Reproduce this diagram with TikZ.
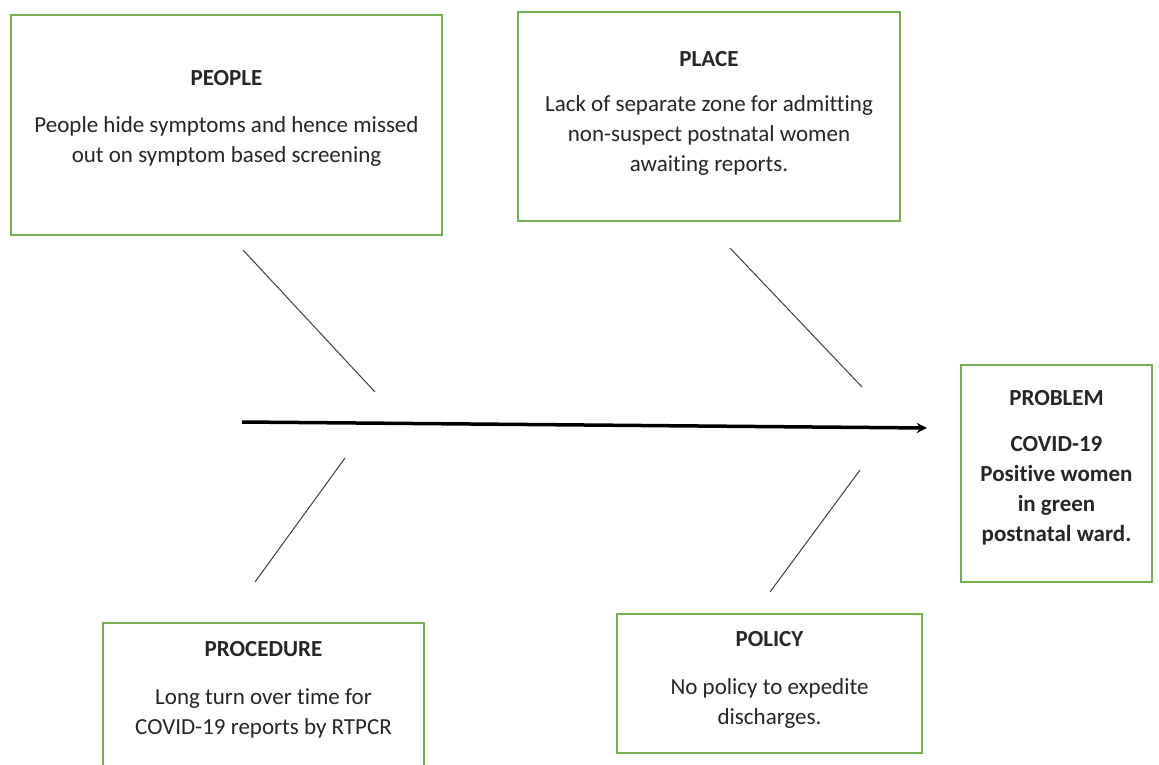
\documentclass[tikz,border=0pt]{standalone}
\usepackage{fontspec}
\setmainfont{Carlito}[Ligatures=NoCommon]
\usetikzlibrary{positioning}
\definecolor{boxgreen}{RGB}{118,176,80}

\begin{document}
\begin{tikzpicture}[x=1pt,y=-1pt,
    causebox/.style={draw=boxgreen,line width=1.8pt,inner sep=0pt},
    causetext/.style={anchor=north,align=center,inner sep=0pt,text=black!85,font=\fontsize{23}{30}\selectfont},
    bone/.style={line width=1pt,black!75}]
    \useasboundingbox (0,0) rectangle (1159,765);
    \fill[white] (0,0) rectangle (1159,765);

    % boxes
    \node[causebox,minimum width=431pt,minimum height=220pt] (people) at (226.5,125) {};
    \node[causebox,minimum width=382pt,minimum height=209pt] (place) at (709,116.5) {};
    \node[causebox,minimum width=191pt,minimum height=217pt] (problem) at (1056.5,473.5) {};
    \node[causebox,minimum width=321pt,minimum height=143pt] (procedure) at (263.5,694.5) {};
    \node[causebox,minimum width=305pt,minimum height=139pt] (policy) at (769.5,683.5) {};

    \node[causetext] (peopletxt) at (226.5,70) {\textbf{PEOPLE}\\[17pt]People hide symptoms and hence missed\\out on symptom based screening};
    \node[causetext] (placetxt) at (709,51) {\textbf{PLACE}\\[15pt]Lack of separate zone for admitting\\non-suspect postnatal women\\awaiting reports.};
    \node[causetext,font=\fontsize{23}{30}\selectfont\bfseries] (problemtxt) at (1056.5,390) {PROBLEM\\[16pt]COVID-19\\Positive women\\in green\\postnatal ward.};
    \node[causetext] (proceduretxt) at (263.5,641) {\textbf{PROCEDURE}\\[18pt]Long turn over time for\\COVID-19 reports by RTPCR};
    \node[causetext] (policytxt) at (769.5,631) {\textbf{POLICY}\\[18pt]No policy to expedite\\discharges.};

    % fish bones
    \coordinate (tail) at (242,422);
    \coordinate (head) at (927,428);
    \coordinate (pplbone) at (243,250);
    \coordinate (pplend) at (375,392);
    \coordinate (plcbone) at (730,248);
    \coordinate (plcend) at (862,387);
    \coordinate (procbone) at (255,582);
    \coordinate (procend) at (345,458);
    \coordinate (polbone) at (770,592);
    \coordinate (polend) at (860,470);

    \draw[line width=3.5pt,black,-stealth](tail)--(head);
    \draw[bone](pplbone)--(pplend);
    \draw[bone](plcbone)--(plcend);
    \draw[bone](procbone)--(procend);
    \draw[bone](polbone)--(polend);
  \end{tikzpicture}
\end{document}
